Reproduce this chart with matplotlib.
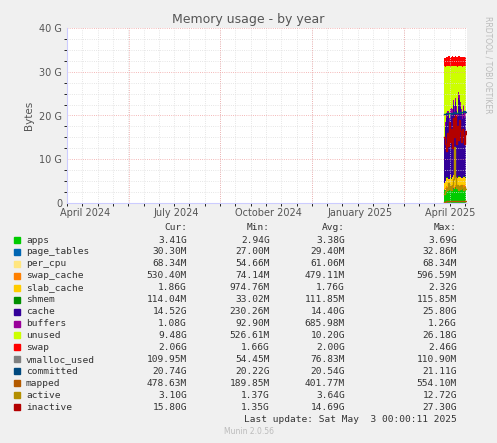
import matplotlib
matplotlib.use("Agg")
import matplotlib.pyplot as plt
import numpy as np

days = list(range(377, 400))
apps = [2.9, 3.0, 3.2, 3.1, 3.3, 3.0, 3.4, 3.2, 3.5, 3.3, 3.1, 3.6, 3.4, 3.2, 3.5, 3.3, 3.4, 3.6, 3.2, 3.4, 3.5, 3.3, 3.4]
page_tables = [0.03] * 23
per_cpu = [0.07] * 23
swap_cache = [0.3, 0.4, 0.6, 0.5, 0.4, 0.5, 0.6, 0.5, 0.4, 0.6, 0.5, 0.5, 0.4, 0.6, 0.5, 0.5, 0.6, 0.4, 0.5, 0.5, 0.6, 0.5, 0.53]
slab_cache = [1.2, 1.5, 1.9, 2.1, 1.6, 1.8, 2.2, 1.7, 1.9, 2.3, 1.6, 1.8, 2.0, 1.7, 1.9, 2.1, 1.8, 1.6, 1.9, 2.0, 1.7, 1.9, 1.86]
shmem = [0.11] * 23
cache = [10.0, 12.5, 13.5, 14.0, 14.5, 13.0, 14.0, 15.0, 14.5, 16.0, 15.5, 17.0, 15.0, 14.0, 18.0, 17.5, 16.0, 14.5, 13.5, 15.0, 13.5, 14.0, 14.5]
buffers = [0.5, 0.8, 1.0, 1.1, 1.0, 0.9, 1.1, 1.2, 1.0, 1.1, 1.2, 1.0, 1.1, 0.9, 1.2, 1.1, 1.0, 1.1, 1.0, 1.2, 1.1, 1.0, 1.08]
swap = [1.8, 1.9, 2.0, 2.1, 2.2, 2.1, 2.0, 2.1, 2.2, 2.0, 2.1, 2.2, 2.0, 2.1, 2.3, 2.2, 2.1, 2.0, 2.2, 2.1, 2.0, 2.1, 2.06]
total_top = [31.3, 31.2, 31.4, 31.3, 31.3, 31.4, 31.2, 31.3, 31.4, 31.3, 31.3, 31.4, 31.3, 31.2, 31.4, 31.3, 31.3, 31.4, 31.2, 31.3, 31.4, 31.3, 31.3]
vmalloc_used = [0.11] * 23
committed = [20.3, 20.4, 20.5, 20.4, 20.5, 20.6, 20.5, 20.4, 20.6, 20.5, 20.7, 20.6, 20.5, 20.6, 20.8, 20.7, 20.6, 20.9, 20.8, 20.7, 21.0, 20.9, 20.74]
mapped = [0.2, 0.3, 0.4, 0.4, 0.4, 0.4, 0.4, 0.45, 0.4, 0.4, 0.45, 0.4, 0.4, 0.45, 0.5, 0.45, 0.4, 0.45, 0.5, 0.45, 0.5, 0.5, 0.48]
active = [2.0, 2.8, 3.4, 2.9, 4.5, 3.2, 3.8, 2.9, 4.0, 5.5, 12.7, 6.0, 3.5, 4.2, 3.0, 3.8, 3.2, 4.1, 3.5, 3.0, 3.6, 3.2, 3.1]
inactive = [15.0, 13.5, 12.0, 16.0, 13.0, 18.5, 14.0, 17.0, 12.5, 19.5, 15.0, 20.0, 13.5, 17.5, 14.5, 19.0, 16.5, 14.0, 17.0, 15.5, 13.5, 16.5, 15.8]

names = ["apps", "page_tables", "per_cpu", "swap_cache", "slab_cache", "shmem", "cache",
         "buffers", "unused", "swap", "vmalloc_used", "committed", "mapped", "active", "inactive"]
colors = ["#00cc00", "#0066b3", "#ffe680", "#ff8000", "#ffcc00", "#008f00", "#330099",
          "#990099", "#ccff00", "#ff0000", "#808080", "#00487d", "#b35a00", "#b38f00", "#b30000"]
cur = ["3.41G", "30.30M", "68.34M", "530.40M", "1.86G", "114.04M", "14.52G", "1.08G", "9.48G", "2.06G",
       "109.95M", "20.74G", "478.63M", "3.10G", "15.80G"]
mins = ["2.94G", "27.00M", "54.66M", "74.14M", "974.76M", "33.02M", "230.26M", "92.90M", "526.61M", "1.66G",
        "54.45M", "20.22G", "189.85M", "1.37G", "1.35G"]
avgs = ["3.38G", "29.40M", "61.06M", "479.11M", "1.76G", "111.85M", "14.40G", "685.98M", "10.20G", "2.00G",
        "76.83M", "20.54G", "401.77M", "3.64G", "14.69G"]
maxs = ["3.69G", "32.86M", "68.34M", "596.59M", "2.32G", "115.85M", "25.80G", "1.26G", "26.18G", "2.46G",
        "110.90M", "21.11G", "554.10M", "12.72G", "27.30G"]
tick_pos = [18, 109, 201, 293, 383]
tick_labels = ["April 2024", "July 2024", "October 2024", "January 2025", "April 2025"]

fig = plt.figure(figsize=(4.97, 4.43), dpi=100, facecolor="#f0f0f0")
ax = fig.add_axes([67 / 497, 240 / 443, 400 / 497, 175 / 443], facecolor="white")

x = np.array(days)
below = np.array(apps) + page_tables + per_cpu + swap_cache + slab_cache + shmem + cache + buffers
unused = np.array(total_top) - below
stack = [apps, page_tables, per_cpu, swap_cache, slab_cache, shmem, cache, buffers, unused, swap]
ax.stackplot(x, *[np.array(s) for s in stack], colors=colors[:10], step="mid", linewidth=0)
for vals, c in zip([vmalloc_used, committed, mapped, active, inactive], colors[10:]):
    ax.plot(x, vals, color=c, lw=1, drawstyle="steps-mid")

ax.set_xlim(0, 400)
ax.set_ylim(0, 40)
ax.set_yticks([0, 10, 20, 30, 40])
ax.set_yticklabels(["0", "10 G", "20 G", "30 G", "40 G"])
ax.set_xticks(tick_pos)
ax.set_xticklabels(tick_labels)
ax.set_xticks(np.arange(0, 400, 15.3), minor=True)
ax.set_yticks(np.arange(0, 40, 2.5), minor=True)
ax.grid(True, which="minor", color="#dddddd", ls=":", lw=0.6)
for xv in [62, 153, 245, 337]:
    ax.axvline(xv, color="#f0a0a0", ls=":", lw=0.6)
for yv in [10, 20, 30, 40]:
    ax.axhline(yv, color="#f0a0a0", ls=":", lw=0.6)
ax.tick_params(labelsize=7, colors="#555555", length=0)
for s in ["top", "right"]:
    ax.spines[s].set_visible(False)
ax.spines["left"].set_color("#ccccff")
ax.spines["bottom"].set_color("#ccccff")
ax.set_ylabel("Bytes", fontsize=7.5, color="#555555")
fig.text(0.5, 1 - 20 / 443, "Memory usage - by year", ha="center", va="center", fontsize=9, color="#555555")
fig.text(488 / 497, 1 - 65 / 443, "RRDTOOL / TOBI OETIKER", rotation=270, ha="center", va="center",
         fontsize=5.5, color="#bbbbbb")

mono = dict(family="DejaVu Sans Mono", fontsize=6.8, color="#333333")
top = 1 - 240 / 443
dy = 11.93 / 443
for hx, h in zip([187, 270, 345, 457], ["Cur:", "Min:", "Avg:", "Max:"]):
    fig.text(hx / 497, 1 - 227 / 443, h, ha="right", va="center", **mono)
for i, n in enumerate(names):
    yy = top - i * dy
    fig.patches.append(plt.Rectangle((14 / 497, yy - 3 / 443), 6 / 497, 6 / 443,
                                     transform=fig.transFigure, color=colors[i]))
    fig.text(26 / 497, yy, n, ha="left", va="center", **mono)
    for hx, v in zip([187, 270, 345, 457], [cur[i], mins[i], avgs[i], maxs[i]]):
        fig.text(hx / 497, yy, v, ha="right", va="center", **mono)
fig.text(457 / 497, 1 - 419 / 443, "Last update: Sat May  3 00:00:11 2025", ha="right", va="center", **mono)
fig.text(0.5, 1 - 432 / 443, "Munin 2.0.56", ha="center", va="center", fontsize=5.5, color="#bbbbbb")

fig.savefig("out.png", dpi=100, facecolor=fig.get_facecolor())
